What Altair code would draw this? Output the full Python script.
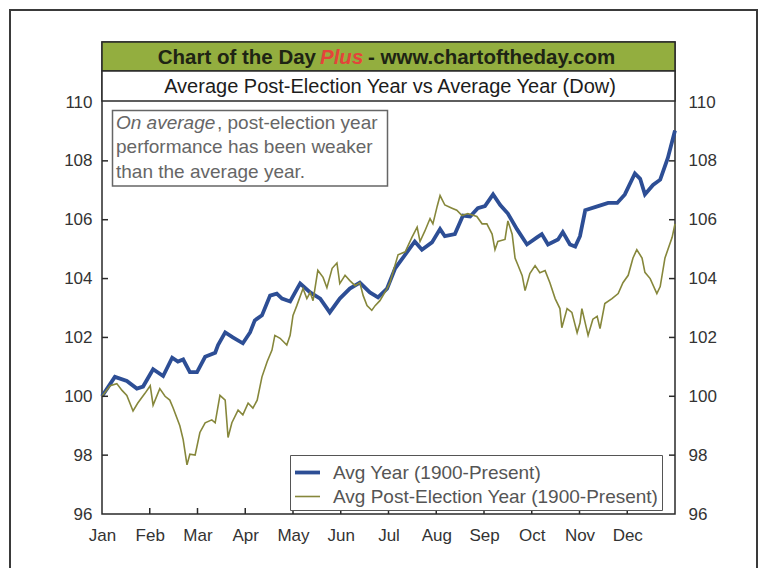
import altair as alt
import pandas as pd

# ---------------- data ----------------
months = ["Jan", "Feb", "Mar", "Apr", "May", "Jun", "Jul", "Aug", "Sep", "Oct", "Nov", "Dec"]
month_ticks = [0, 1, 2, 3, 4, 5, 6, 7, 8, 9, 10, 11]
inner_x_ticks = [1, 2, 3, 4, 5, 6, 7, 8, 9, 10, 11]
y_labels = [96, 98, 100, 102, 104, 106, 108, 110]
inner_y_ticks = [98, 100, 102, 104, 106, 108]

series_names = ["Avg Year (1900-Present)", "Avg Post-Election Year (1900-Present)"]

# Avg Year (month position, index value)
avg_x = [0.00, 0.27, 0.52, 0.73, 0.86, 1.07, 1.28, 1.47, 1.59, 1.70, 1.84, 1.99, 2.16, 2.37, 2.43,
         2.58, 2.74, 2.95, 3.10, 3.20, 3.35, 3.52, 3.66, 3.77, 3.94, 4.10, 4.15, 4.36, 4.57, 4.77,
         4.98, 5.19, 5.40, 5.61, 5.78, 5.97, 6.14, 6.35, 6.55, 6.70, 6.91, 7.08, 7.18, 7.39, 7.56,
         7.71, 7.87, 8.02, 8.19, 8.34, 8.50, 8.69, 8.90, 9.11, 9.21, 9.34, 9.55, 9.65, 9.80, 9.91,
         10.01, 10.12, 10.39, 10.60, 10.79, 10.95, 11.16, 11.27, 11.37, 11.54, 11.69, 11.85, 12.00]
avg_y = [100.00, 100.66, 100.52, 100.26, 100.33, 100.92, 100.69, 101.31, 101.18, 101.25, 100.82, 100.82,
         101.34, 101.48, 101.74, 102.17, 102.00, 101.80, 102.17, 102.58, 102.75, 103.42, 103.49, 103.32,
         103.22, 103.69, 103.83, 103.53, 103.32, 102.85, 103.32, 103.66, 103.86, 103.53, 103.36, 103.66,
         104.35, 104.81, 105.26, 104.98, 105.23, 105.68, 105.44, 105.51, 106.14, 106.11, 106.39, 106.46,
         106.86, 106.50, 106.21, 105.68, 105.16, 105.40, 105.51, 105.16, 105.33, 105.58, 105.16, 105.09,
         105.44, 106.32, 106.46, 106.57, 106.57, 106.86, 107.57, 107.39, 106.86, 107.18, 107.36, 108.10,
         109.03]

# Avg Post-Election Year
post_x = [0.00, 0.17, 0.31, 0.42, 0.52, 0.65, 0.75, 0.90, 1.01, 1.07, 1.21, 1.32, 1.42, 1.49, 1.63,
          1.70, 1.78, 1.84, 1.95, 2.05, 2.16, 2.30, 2.37, 2.47, 2.58, 2.64, 2.72, 2.85, 2.95, 3.06,
          3.16, 3.25, 3.35, 3.46, 3.56, 3.62, 3.73, 3.87, 3.94, 4.00, 4.08, 4.21, 4.29, 4.36, 4.42,
          4.52, 4.63, 4.71, 4.82, 4.92, 4.98, 5.09, 5.19, 5.30, 5.40, 5.47, 5.55, 5.65, 5.72, 5.82,
          5.97, 6.03, 6.20, 6.35, 6.49, 6.60, 6.66, 6.76, 6.87, 6.93, 7.02, 7.08, 7.18, 7.33, 7.43,
          7.54, 7.66, 7.85, 7.96, 8.06, 8.17, 8.23, 8.29, 8.44, 8.50, 8.59, 8.65, 8.71, 8.80, 8.86,
          8.96, 9.07, 9.17, 9.28, 9.38, 9.49, 9.59, 9.63, 9.74, 9.84, 9.95, 10.01, 10.05, 10.18, 10.28,
          10.37, 10.43, 10.53, 10.68, 10.81, 10.91, 11.02, 11.12, 11.20, 11.31, 11.37, 11.48, 11.62,
          11.69, 11.79, 11.94, 12.00]
post_y = [100.00, 100.36, 100.43, 100.20, 100.03, 99.50, 99.77, 100.10, 100.36, 99.70, 100.26, 100.00,
          99.87, 99.60, 99.00, 98.53, 97.67, 98.03, 98.00, 98.77, 99.10, 99.20, 99.10, 100.03, 99.87,
          98.60, 99.10, 99.53, 99.37, 99.77, 99.60, 99.87, 100.66, 101.18, 101.57, 102.07, 101.97,
          101.74, 102.07, 102.75, 103.08, 103.66, 103.32, 103.53, 103.25, 104.28, 104.04, 103.69,
          104.35, 104.53, 103.83, 104.11, 103.93, 103.76, 103.86, 103.42, 103.08, 102.92, 103.08,
          103.25, 103.66, 103.86, 104.81, 104.91, 105.40, 105.75, 105.26, 105.61, 106.04, 105.86,
          106.46, 106.82, 106.50, 106.39, 106.32, 106.14, 106.21, 106.11, 105.86, 105.86, 105.51,
          104.98, 105.26, 105.33, 105.96, 105.51, 104.70, 104.46, 104.10, 103.59, 104.17, 104.44,
          104.20, 104.27, 103.86, 103.32, 102.98, 102.33, 102.98, 102.85, 102.16, 102.49, 102.98,
          102.07, 102.62, 102.72, 102.30, 103.15, 103.32, 103.49, 103.86, 104.11, 104.70, 104.98,
          104.70, 104.21, 104.00, 103.49, 103.73, 104.70, 105.40, 105.86]

title_parts = ["Chart of the Day", "Plus", "- www.chartoftheday.com"]
subtitle = "Average Post-Election Year vs Average Year (Dow)"
note_italic = "On average"
note_lines = [", post-election year", "performance has been weaker", "than the average year."]

# ---------------- styling ----------------
W, H = 573, 472
FONT = "Liberation Sans"
BLUE = "#2d4e95"
OLIVE = "#86873b"
GREEN = "#93ae3f"
DARK = "#2a2a2a"

lines_df = pd.DataFrame({
    "m": avg_x + post_x,
    "v": avg_y + post_y,
    "s": [series_names[0]] * len(avg_x) + [series_names[1]] * len(post_x),
})

yscale = alt.Scale(domain=[96, 110], range=[H, 60], nice=False, zero=False)
xscale = alt.Scale(domain=[0, 12], nice=False, zero=False)

legend = alt.Legend(
    orient="none", legendX=188, legendY=413, title=None,
    fillColor="white", strokeColor="#555", padding=3,
    symbolType="stroke", symbolSize=625, labelFontSize=19, labelColor="#555",
    labelFont=FONT, labelLimit=500, rowPadding=-1, labelOffset=11,
)

lines = alt.Chart(lines_df).mark_line().encode(
    x=alt.X("m:Q", scale=xscale, axis=alt.Axis(
        values=month_ticks, title=None, ticks=False, domain=False, grid=False,
        labelExpr="['Jan','Feb','Mar','Apr','May','Jun','Jul','Aug','Sep','Oct','Nov','Dec'][datum.value]",
        labelFlush=False, labelFontSize=17, labelColor="#333", labelFont=FONT, labelPadding=13)),
    y=alt.Y("v:Q", scale=yscale, axis=alt.Axis(
        values=y_labels, title=None, ticks=False, domain=False, grid=False, orient="left",
        labelFontSize=17, labelColor="#333", labelFont=FONT, labelPadding=10)),
    color=alt.Color("s:N", scale=alt.Scale(domain=series_names, range=[BLUE, OLIVE]), legend=legend),
    strokeWidth=alt.StrokeWidth("s:N", scale=alt.Scale(domain=series_names, range=[3.8, 1.6]), legend=legend),
)

one = pd.DataFrame({"k": [0]})

frame = alt.Chart(one).mark_rect(fillOpacity=0, stroke="#3a3a3a", strokeWidth=2).encode(
    x=alt.value(-92), x2=alt.value(655), y=alt.value(-32), y2=alt.value(620))

green_band = alt.Chart(one).mark_rect(fill=GREEN, stroke=DARK, strokeWidth=1.5).encode(
    x=alt.value(0), x2=alt.value(W), y=alt.value(0), y2=alt.value(29))
white_band = alt.Chart(one).mark_rect(fill="white", stroke=DARK, strokeWidth=1.5).encode(
    x=alt.value(0), x2=alt.value(W), y=alt.value(29), y2=alt.value(59))

t1 = alt.Chart(pd.DataFrame({"t": [title_parts[0]]})).mark_text(
    font=FONT, fontSize=20.5, fontWeight="bold", color="#1e2414", align="right", baseline="middle"
).encode(text="t:N", x=alt.value(214), y=alt.value(15.5))
t2 = alt.Chart(pd.DataFrame({"t": [title_parts[1]]})).mark_text(
    font=FONT, fontSize=20.5, fontWeight="bold", fontStyle="italic", color="#e4443a", align="left", baseline="middle"
).encode(text="t:N", x=alt.value(218), y=alt.value(15.5))
t3 = alt.Chart(pd.DataFrame({"t": [title_parts[2]]})).mark_text(
    font=FONT, fontSize=20.5, fontWeight="bold", color="#1e2414", align="left", baseline="middle"
).encode(text="t:N", x=alt.value(266), y=alt.value(15.5))

sub = alt.Chart(pd.DataFrame({"t": [subtitle]})).mark_text(
    font=FONT, fontSize=20, color="#1c1c1c", align="center", baseline="middle"
).encode(text="t:N", x=alt.value(288), y=alt.value(45))

note_box = alt.Chart(one).mark_rect(fill="white", stroke="#666", strokeWidth=1.5).encode(
    x=alt.value(10.5), x2=alt.value(285.5), y=alt.value(68.5), y2=alt.value(144))
n0 = alt.Chart(pd.DataFrame({"t": [note_italic]})).mark_text(
    font=FONT, fontSize=19, fontStyle="italic", color="#666", align="left", baseline="middle"
).encode(text="t:N", x=alt.value(14), y=alt.value(81))
n1 = alt.Chart(pd.DataFrame({"t": [note_lines[0]]})).mark_text(
    font=FONT, fontSize=19, color="#666", align="left", baseline="middle"
).encode(text="t:N", x=alt.value(115), y=alt.value(81))
n23 = alt.Chart(pd.DataFrame({"t": note_lines[1:], "yy": [105, 130]})).mark_text(
    font=FONT, fontSize=19, color="#666", align="left", baseline="middle"
).encode(text="t:N", x=alt.value(14), y=alt.Y("yy:Q", scale=None))

ytick_df = pd.DataFrame({"v": inner_y_ticks})
xtick_df = pd.DataFrame({"m": inner_x_ticks})

left_ticks = alt.Chart(ytick_df).mark_rule(color=DARK, strokeWidth=1.5).encode(
    y=alt.Y("v:Q", scale=yscale, axis=None), x=alt.value(0), x2=alt.value(6))
right_ticks = alt.Chart(ytick_df).mark_rule(color=DARK, strokeWidth=1.5).encode(
    y=alt.Y("v:Q", scale=yscale, axis=alt.Axis(
        values=y_labels, title=None, ticks=False, domain=False, grid=False, orient="right",
        labelFontSize=17, labelColor="#333", labelFont=FONT, labelPadding=13)),
    x=alt.value(W - 6), x2=alt.value(W))
bottom_ticks = alt.Chart(xtick_df).mark_rule(color=DARK, strokeWidth=1.5).encode(
    x=alt.X("m:Q", scale=xscale, axis=None), y=alt.value(H - 6), y2=alt.value(H))

chart = alt.layer(
    frame, green_band, white_band, t1, t2, t3, sub,
    lines, note_box, n0, n1, n23,
    left_ticks, right_ticks, bottom_ticks,
).resolve_axis(x="independent", y="independent").properties(
    width=W, height=H,
    autosize=alt.AutoSizeParams(type="none"),
    padding={"left": 94, "top": 34, "right": 84, "bottom": 54},
    background="white",
).configure_view(stroke=DARK, strokeWidth=1.5).configure_axis(grid=False)

chart.save("out.html", embed_options={"renderer": "svg", "actions": False})
